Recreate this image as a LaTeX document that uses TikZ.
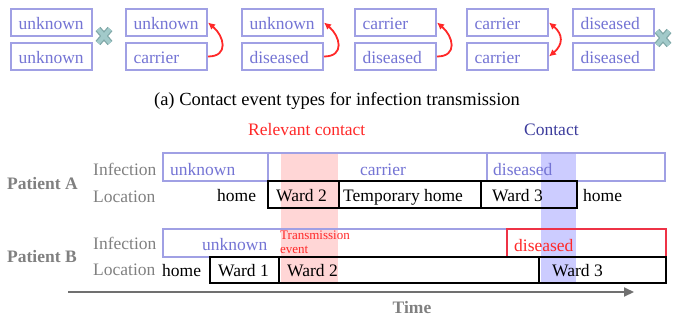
\documentclass[tikz,border=0pt]{standalone}
\usepackage{fontspec}
\setmainfont{Liberation Serif}
\usetikzlibrary{arrows.meta}
\definecolor{lav}{RGB}{160,160,228}
\definecolor{lavtext}{RGB}{116,116,212}
\definecolor{hotred}{RGB}{255,40,40}
\definecolor{boxred}{RGB}{238,50,70}
\definecolor{pinkband}{RGB}{255,214,214}
\definecolor{blueband}{RGB}{204,204,255}
\definecolor{navy}{RGB}{60,60,156}
\definecolor{labgray}{RGB}{128,128,128}
\definecolor{xfill}{RGB}{162,202,202}
\definecolor{xedge}{RGB}{128,168,168}
\definecolor{axisgray}{RGB}{112,112,112}

\begin{document}
\begin{tikzpicture}[x=1pt,y=-1pt,
  font=\rmfamily\fontsize{17.5}{20}\selectfont,
  state/.style={draw=lav, line width=2pt, minimum width=81pt, minimum height=27pt,
    inner sep=0pt, text width=66pt, align=left, text=lavtext, anchor=north west,
    text height=13.5pt, text depth=0pt, font=\rmfamily\fontsize{17.5}{20}\selectfont},
  redarr/.style={draw=hotred, line width=1.8pt, -{Latex[length=7pt,width=7pt]}},
  redarrboth/.style={draw=hotred, line width=1.8pt, {Latex[length=7pt,width=7pt]}-{Latex[length=7pt,width=7pt]}},
  lab/.style={anchor=base west, text=labgray, inner sep=0pt},
  txt/.style={anchor=base west, inner sep=0pt},
  infobox/.style={draw=lav, line width=2pt},
  locbox/.style={draw=black, line width=2pt},
  xmark/.style={line width=6.5pt, draw=xedge},
  xmarkin/.style={line width=4pt, draw=xfill},
]
\useasboundingbox (0,0) rectangle (679,322);

% ---- contact event types: pairs of states ----
\foreach \n/\x/\a/\b in {1/10/unknown/unknown, 2/125/unknown/carrier,
    3/241/unknown/diseased, 4/354/carrier/diseased, 5/466/carrier/carrier,
    6/572/diseased/diseased}{
  \node[state] (t\n) at (\x,8) {\a};
  \node[state] (b\n) at (\x,42) {\b};
}
\draw[redarr] (b2.east) to[out=0,in=-40,looseness=1.6] (t2.east);
\draw[redarr] (b3.east) to[out=0,in=-40,looseness=1.6] (t3.east);
\draw[redarr] (b4.east) to[out=0,in=-40,looseness=1.6] (t4.east);
\draw[redarrboth] (t5.east) to[out=-40,in=40,looseness=1.4] (b5.east);

% no-transmission crosses
\foreach \cx/\cy in {104/36, 663/38}{
  \draw[xmark] (\cx-6,\cy-7) -- (\cx+6,\cy+7) (\cx+6,\cy-7) -- (\cx-6,\cy+7);
  \draw[xmarkin] (\cx-6,\cy-7) -- (\cx+6,\cy+7) (\cx+6,\cy-7) -- (\cx-6,\cy+7);
}

\node[anchor=base, inner sep=0pt, font=\fontsize{18.5}{20}\selectfont] (cap) at (337,105)
  {(a) Contact event types for infection transmission};

% ---- timeline: contact windows ----
\fill[pinkband] (281,153) rectangle (338,283);
\fill[blueband] (541,153) rectangle (576,283);

\node[txt, text=hotred] (rel) at (248,135) {Relevant contact};
\node[txt, text=navy] (con) at (524,135) {Contact};

% Patient A
\draw[infobox] (163,153) rectangle (268,181);
\draw[infobox] (268,153) rectangle (487,181);
\draw[infobox] (487,153) rectangle (665,181);
\draw[locbox] (268,181) rectangle (339,208);
\draw[locbox] (339,181) rectangle (481,208);
\draw[locbox] (481,181) rectangle (577,208);

\node[lab] (pa) at (7,189) {\textbf{Patient A}};
\node[lab] (pai) at (93,175) {Infection};
\node[lab] (pal) at (93,202) {Location};
\node[txt, text=lavtext] (ia1) at (170,175) {unknown};
\node[txt, text=lavtext] (ia2) at (360,175) {carrier};
\node[txt, text=lavtext] (ia3) at (493,175) {diseased};
\node[txt] (la0) at (217,201) {home};
\node[txt] (la1) at (276,201) {Ward 2};
\node[txt] (la2) at (343,201) {Temporary home};
\node[txt] (la3) at (492,201) {Ward 3};
\node[txt] (la4) at (583,201) {home};

% Patient B
\draw[infobox] (163,229) rectangle (507,257);
\draw[draw=boxred, line width=2.4pt] (507,229) rectangle (666,257);
\draw[locbox] (210,257) rectangle (279,283);
\draw[locbox] (279,257) rectangle (539,283);
\draw[locbox] (539,257) rectangle (666,283);

\node[lab] (pb) at (7,262) {\textbf{Patient B}};
\node[lab] (pbi) at (93,249) {Infection};
\node[lab] (pbl) at (93,275) {Location};
\node[txt, text=lavtext] (ib1) at (202,250) {unknown};
\node[txt, text=hotred] (ib2) at (514,251) {diseased};
\node[txt, text=hotred, font=\fontsize{13}{14}\selectfont] (tr1) at (280,239) {Transmission};
\node[txt, text=hotred, font=\fontsize{13}{14}\selectfont] (tr2) at (280,253) {event};
\node[txt] (lb0) at (162,276) {home};
\node[txt] (lb1) at (218,276) {Ward 1};
\node[txt] (lb2) at (287,276) {Ward 2};
\node[txt] (lb3) at (552,276) {Ward 3};

% time axis
\coordinate (ts) at (68,292);
\coordinate (te) at (634,292);
\draw[axisgray, line width=2pt, -{Triangle[length=10pt,width=9pt]}] (ts) -- (te);
\node[anchor=base, inner sep=0pt, text=labgray] (time) at (412,313) {\textbf{Time}};
\end{tikzpicture}
\end{document}
